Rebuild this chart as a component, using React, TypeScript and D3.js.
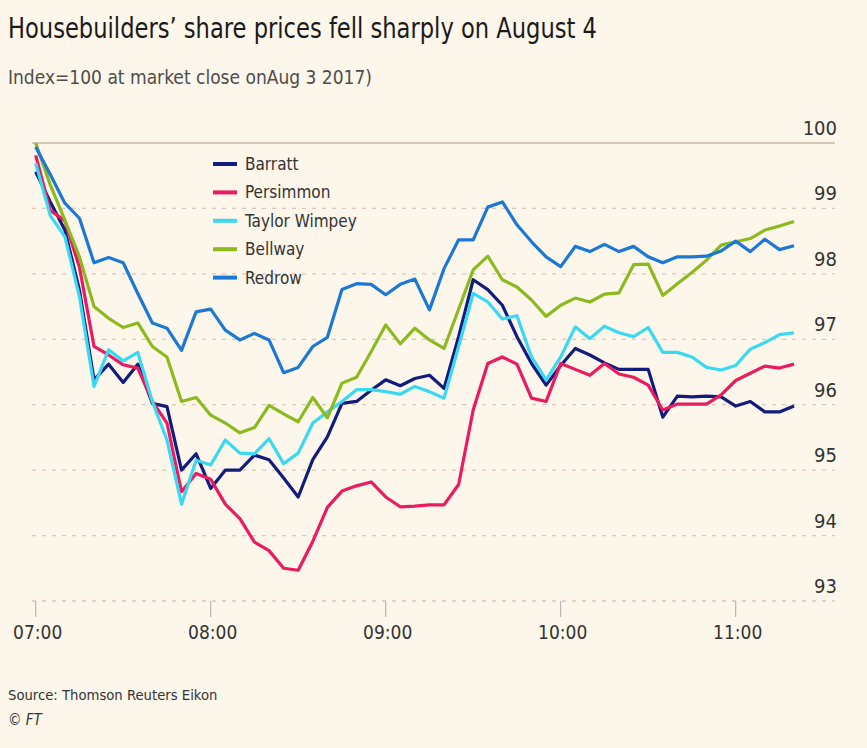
import React from "react";
import * as d3 from "d3";

// 5-minute steps from 07:00 to 11:20 on Aug 4 2017
const startTime = new Date(2017, 7, 4, 7, 0);
const stepMinutes = 5;

const barratt = [
  99.56, 99.1, 98.67, 97.75, 96.38, 96.62, 96.34, 96.62, 96.02, 95.97, 95.0, 95.25, 94.72,
  95.0, 95.0, 95.23, 95.16, 94.88, 94.59, 95.16, 95.51, 96.02, 96.05, 96.22, 96.38, 96.29,
  96.4, 96.45, 96.25, 97.04, 97.91, 97.76, 97.52, 97.04, 96.63, 96.3, 96.6, 96.86, 96.76,
  96.64, 96.54, 96.54, 96.54, 95.81, 96.13, 96.12, 96.13, 96.12, 95.98, 96.05, 95.89, 95.89,
  95.98,
];
const persimmon = [
  99.81, 98.97, 98.81, 98.1, 96.89, 96.76, 96.61, 96.56, 96.05, 95.72, 94.67, 94.95, 94.86,
  94.48, 94.26, 93.9, 93.77, 93.5, 93.47, 93.91, 94.43, 94.68, 94.76, 94.82, 94.59, 94.44,
  94.45, 94.47, 94.47, 94.78, 95.92, 96.63, 96.73, 96.62, 96.1, 96.05, 96.63, 96.54, 96.45,
  96.63, 96.47, 96.42, 96.3, 95.92, 96.01, 96.01, 96.01, 96.15, 96.37, 96.48, 96.59, 96.56,
  96.62,
];
const taylorWimpey = [
  99.69, 98.89, 98.57, 97.65, 96.28, 96.84, 96.67, 96.8, 96.05, 95.46, 94.48, 95.15, 95.08,
  95.46, 95.26, 95.25, 95.48, 95.1, 95.26, 95.72, 95.89, 96.05, 96.23, 96.23, 96.2, 96.16,
  96.28, 96.2, 96.1, 96.89, 97.7, 97.57, 97.31, 97.36, 96.73, 96.38, 96.73, 97.19, 97.01,
  97.2, 97.1, 97.04, 97.18, 96.8, 96.8, 96.73, 96.57, 96.53, 96.6, 96.85, 96.95, 97.07,
  97.1,
];
const bellway = [
  100.0, 99.36, 98.82, 98.26, 97.5, 97.32, 97.18, 97.25, 96.89, 96.73, 96.05, 96.11, 95.84,
  95.72, 95.57, 95.65, 95.99, 95.86, 95.74, 96.11, 95.8, 96.33, 96.42, 96.81, 97.22, 96.93,
  97.17, 96.99, 96.86, 97.46, 98.06, 98.27, 97.91, 97.8, 97.6, 97.35, 97.52, 97.63, 97.57,
  97.69, 97.71, 98.14, 98.15, 97.67, 97.85, 98.02, 98.21, 98.44, 98.49, 98.54, 98.67, 98.73,
  98.8,
];
const redrow = [
  99.94, 99.52, 99.08, 98.85, 98.17, 98.25, 98.17, 97.7, 97.25, 97.17, 96.83, 97.42, 97.46,
  97.14, 96.99, 97.09, 96.99, 96.49, 96.57, 96.89, 97.03, 97.76, 97.85, 97.84, 97.68, 97.84,
  97.92, 97.45, 98.08, 98.52, 98.52, 99.02, 99.1, 98.75, 98.49, 98.26, 98.11, 98.42, 98.34,
  98.45, 98.34, 98.42, 98.26, 98.17, 98.26, 98.26, 98.27, 98.35, 98.5, 98.34, 98.53, 98.37,
  98.43,
];

const seriesNames = ["Barratt", "Persimmon", "Taylor Wimpey", "Bellway", "Redrow"];
const seriesValues = [barratt, persimmon, taylorWimpey, bellway, redrow];
const seriesColors = ["#111c7c", "#ea1b5e", "#3ad9f2", "#8cba1e", "#1b78d4"];

const yTicks = [93, 94, 95, 96, 97, 98, 99, 100];

const title = "Housebuilders\u2019 share prices fell sharply on August 4";
const subtitle = "Index=100 at market close onAug 3 2017)";
const source = "Source: Thomson Reuters Eikon";

const W = 867;
const H = 748;
const font = "'Liberation Sans Narrow', 'DejaVu Sans Condensed', Roboto, sans-serif";

export default function App() {
  const times = barratt.map((_, i) => d3.timeMinute.offset(startTime, i * stepMinutes));

  const x = d3
    .scaleTime()
    .domain([startTime, new Date(2017, 7, 4, 11, 0)])
    .range([35.7, 735.7]);
  const y = d3.scaleLinear().domain([93, 100]).range([601, 143]);

  const line = d3
    .line<number>()
    .x((_, i) => x(times[i]))
    .y((d) => y(d));

  const xTicks = x.ticks(d3.timeHour.every(1) as d3.TimeInterval);
  const fmt = d3.timeFormat("%H:%M");

  return (
    <svg
      width={W}
      height={H}
      style={{ position: "absolute", left: 0, top: 0, background: "#fdf6eb" }}
      fontFamily={font}
    >
      <rect width={W} height={H} fill="#fdf6eb" />
      <text
        x={8}
        y={38}
        fontSize={28}
        fill="#1a1a1a"
        textLength={589}
        lengthAdjust="spacingAndGlyphs"
      >
        {title}
      </text>
      <text x={8} y={84} fontSize={19} fill="#4d4d4d">
        {subtitle}
      </text>

      {/* grid */}
      {yTicks.map((t) => (
        <g key={t}>
          <line
            x1={32}
            x2={835}
            y1={y(t)}
            y2={y(t)}
            stroke={t === 100 ? "#c9b9a6" : "#dcc5b9"}
            strokeWidth={t === 100 ? 1.6 : 1.3}
            strokeDasharray={t === 100 ? undefined : "4 6"}
          />
          <text x={837} y={y(t) - 8} fontSize={20} fill="#333" textAnchor="end">
            {t}
          </text>
        </g>
      ))}

      {/* x ticks */}
      {xTicks.map((t) => (
        <g key={t.getTime()}>
          <line x1={x(t)} x2={x(t)} y1={601} y2={617} stroke="#aaa" strokeWidth={1} />
          <text x={x(t) + 2} y={639} fontSize={19} fill="#333" textAnchor="middle">
            {fmt(t)}
          </text>
        </g>
      ))}

      {/* lines */}
      {seriesValues.map((vals, k) => (
        <path
          key={seriesNames[k]}
          d={line(vals) || ""}
          fill="none"
          stroke={seriesColors[k]}
          strokeWidth={3.2}
          strokeLinejoin="round"
        />
      ))}

      {/* legend */}
      {seriesNames.map((name, k) => {
        const ly = 164 + k * 28.4;
        return (
          <g key={name}>
            <line x1={213} x2={237} y1={ly} y2={ly} stroke={seriesColors[k]} strokeWidth={4} />
            <text x={245} y={ly + 6} fontSize={17} fill="#333">
              {name}
            </text>
          </g>
        );
      })}

      <text x={8} y={700} fontSize={14.7} fill="#333">
        {source}
      </text>
      <text x={8} y={725} fontSize={15} fill="#333">
        {"\u00a9 "}
        <tspan fontStyle="italic">FT</tspan>
      </text>
    </svg>
  );
}
